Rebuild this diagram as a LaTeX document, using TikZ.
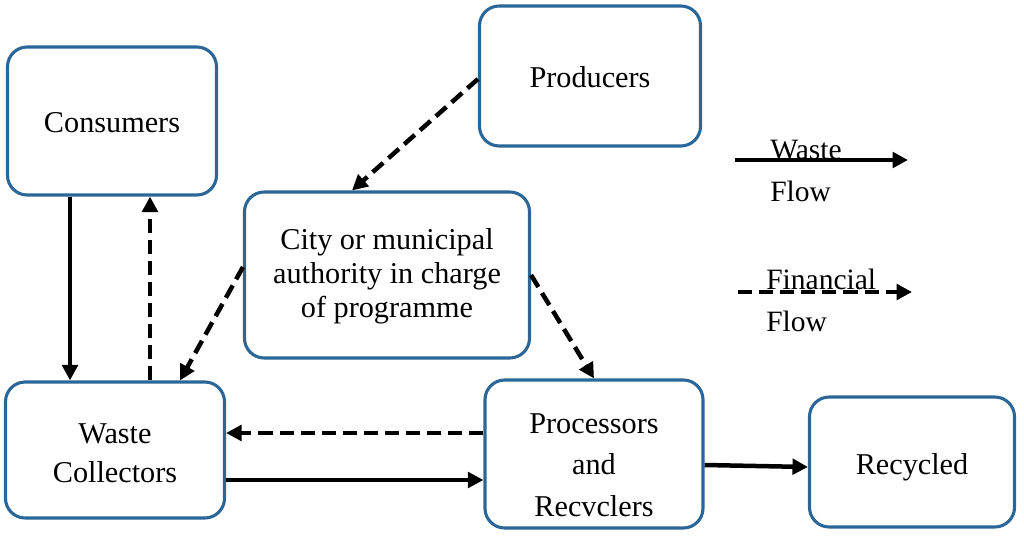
\documentclass[tikz,border=0pt]{standalone}
\usepackage{fontspec}
\setmainfont{Liberation Serif}
\usetikzlibrary{arrows.meta}
\definecolor{bx}{HTML}{2B6698}
\newcommand{\tx}[3]{\fontsize{21.5}{#2}\selectfont\raisebox{-#1}[0pt][0pt]{\begin{tabular}{@{}c@{}}#3\end{tabular}}}
\begin{document}
\begin{tikzpicture}[x=0.025cm,y=-0.025cm,
 box/.style={draw=bx,line width=2.2pt,rounded corners=14pt,align=center,inner sep=0pt},
 sol/.style={line width=3.2pt,-{Triangle[length=11pt,width=11pt]}},
 das/.style={sol,dash pattern=on 10pt off 5pt},
 lab/.style={font=\fontsize{21}{24}\selectfont,inner sep=0pt}]
\useasboundingbox (0,0) rectangle (1024,544);
\node[box,minimum width=209*0.025cm,minimum height=148*0.025cm] (cons) at (112,121) {\tx{8.5pt}{24pt}{Consumers}};
\node[box,minimum width=221*0.025cm,minimum height=140*0.025cm] (prod) at (590,76) {\tx{8.5pt}{24pt}{Producers}};
\node[box,minimum width=285*0.025cm,minimum height=166*0.025cm] (city) at (387,275) {\tx{6.5pt}{24pt}{City or municipal\\authority in charge\\of programme}};
\node[box,minimum width=219*0.025cm,minimum height=136*0.025cm] (wc) at (115,450) {\tx{9pt}{28pt}{Waste\\Collectors}};
\node[box,minimum width=218*0.025cm,minimum height=148*0.025cm] (proc) at (594,454) {\tx{14pt}{29.5pt}{Processors\\and\\Recvclers}};
\node[box,minimum width=205*0.025cm,minimum height=130*0.025cm] (rec) at (912,462) {\tx{9pt}{24pt}{Recycled}};
\draw[sol] ([xshift=-42*0.025cm]cons.south) -- ([xshift=-45*0.025cm]wc.north);
\draw[das] ([xshift=35*0.025cm]wc.north) -- ([xshift=38*0.025cm]cons.south);
\draw[das] ([yshift=-3*0.025cm]prod.west) -- ([xshift=-35*0.025cm]city.north);
\draw[das] ([yshift=8*0.025cm]city.west) -- ([xshift=65*0.025cm]wc.north);
\draw[das] (city.east) -- ([yshift=0*0.025cm]proc.north);
\draw[das] ([yshift=21*0.025cm]proc.west) -- ([yshift=17*0.025cm]wc.east);
\draw[sol] ([yshift=-30*0.025cm]wc.east) -- ([yshift=-26*0.025cm]proc.west);
\draw[sol] ([yshift=-11*0.025cm]proc.east) -- ([yshift=-5*0.025cm]rec.west);
\coordinate (l1a) at (735,160); \coordinate (l1b) at (908,160);
\draw[sol] (l1a) -- (l1b);
\node[lab,anchor=west] (w1) at (770,150) {Waste};
\node[lab,anchor=west] (w2) at (770,191) {Flow};
\coordinate (l2a) at (738,292); \coordinate (l2b) at (912,292);
\draw[das] (l2a) -- (l2b);
\node[lab,anchor=west] (f1) at (766,279) {Financial};
\node[lab,anchor=west] (f2) at (766,321) {Flow};
\end{tikzpicture}
\end{document}
